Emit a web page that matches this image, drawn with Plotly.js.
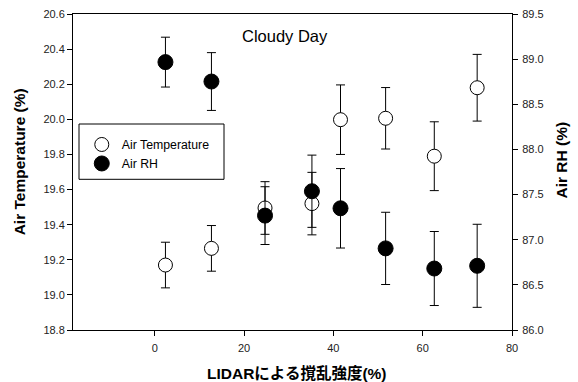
<!DOCTYPE html>
<html><head><meta charset="utf-8">
<script src="https://cdn.plot.ly/plotly-3.0.1.min.js"></script>
<style>html,body{margin:0;padding:0;background:#fff}</style>
</head><body>
<div id="chart" style="width:578px;height:382px"></div>
<script>
const xVals = [2.4, 12.7, 24.7, 35.2, 41.6, 51.7, 62.6, 72.2];
const tempVals = [19.17, 19.265, 19.495, 19.52, 19.998, 20.006, 19.79, 20.18];
const tempErr = [0.13, 0.13, 0.15, 0.178, 0.198, 0.175, 0.196, 0.19];
const rhVals = [88.967, 88.752, 87.267, 87.537, 87.348, 86.904, 86.681, 86.711];
const rhErr = [0.276, 0.32, 0.32, 0.4, 0.44, 0.4, 0.41, 0.46];
const xTicks = [0, 20, 40, 60, 80];
const tempTicks = [18.8, 19.0, 19.2, 19.4, 19.6, 19.8, 20.0, 20.2, 20.4, 20.6];
const rhTicks = [86.0, 86.5, 87.0, 87.5, 88.0, 88.5, 89.0, 89.5];

const F = 'Liberation Sans, Arial, Noto Sans CJK JP, sans-serif';
const TF = {family: F, size: 15.5, color: '#000', weight: 'bold'};
const traces = [
  {x: xVals, y: tempVals, type: 'scatter', mode: 'markers', name: 'Air Temperature',
   marker: {symbol: 'circle', size: 14, color: '#ffffff', line: {color: '#000', width: 1}},
   error_y: {type: 'data', array: tempErr, visible: true, color: '#000', thickness: 1, width: 4.5}},
  {x: xVals, y: rhVals, type: 'scatter', mode: 'markers', name: 'Air RH', yaxis: 'y2',
   marker: {symbol: 'circle', size: 15, color: '#000', line: {color: '#000', width: 1}},
   error_y: {type: 'data', array: rhErr, visible: true, color: '#000', thickness: 1, width: 4.5}}
];
const layout = {
  width: 578, height: 382,
  margin: {l: 73, r: 66, t: 14, b: 52, pad: 0},
  paper_bgcolor: '#fff', plot_bgcolor: '#fff',
  font: {family: F, size: 11, color: '#222'},
  showlegend: true,
  legend: {x: 0.02, y: 0.633, xanchor: 'left', yanchor: 'top', borderwidth: 0,
           bgcolor: 'rgba(0,0,0,0)', font: {family: F, size: 12.3, color: '#000'}, itemwidth: 30, tracegroupgap: 0},
  shapes: [{type: 'rect', xref: 'paper', yref: 'paper', x0: 6 / 439, x1: 151 / 439,
            y0: (330 - 179.3) / 316, y1: (330 - 124) / 316, line: {color: '#000', width: 1},
            fillcolor: '#fff', layer: 'above'}],
  xaxis: {range: [-18.3, 80], tickvals: xTicks, ticks: 'outside', ticklen: 5, tickcolor: '#000',
          showline: true, linecolor: '#000', linewidth: 1, mirror: true, showgrid: false, zeroline: false,
          ticklabelstandoff: 3, tickfont: {family: F, size: 11, color: '#222'}},
  yaxis: {range: [18.8, 20.6], tickvals: tempTicks, ticktext: tempTicks.map(v => v.toFixed(1)),
          ticks: 'outside', ticklen: 5, tickcolor: '#000', showline: true, linecolor: '#000', linewidth: 1,
          showgrid: false, zeroline: false, tickfont: {family: F, size: 11, color: '#222'}},
  yaxis2: {range: [86.0, 89.5], tickvals: rhTicks, ticktext: rhTicks.map(v => v.toFixed(1)),
           overlaying: 'y', side: 'right', ticks: 'outside', ticklen: 5, tickcolor: '#000', showline: true,
           linecolor: '#000', linewidth: 1, showgrid: false, zeroline: false,
           ticklabelstandoff: 2, tickfont: {family: F, size: 11, color: '#222'}},
  annotations: [
    {text: 'Cloudy Day', xref: 'paper', yref: 'paper', x: 0.4837, y: 0.93, xanchor: 'center', yanchor: 'middle',
     showarrow: false, font: {family: F, size: 16.5, color: '#000'}},
    {text: 'LIDARによる撹乱強度(%)', xref: 'paper', yref: 'paper', x: 0.51, y: -0.136, xanchor: 'center', yanchor: 'middle',
     showarrow: false, font: TF},
    {text: 'Air Temperature (%)', xref: 'paper', yref: 'paper', x: -0.122, y: 0.532, xanchor: 'center', yanchor: 'middle',
     textangle: -90, showarrow: false, font: TF},
    {text: 'Air RH (%)', xref: 'paper', yref: 'paper', x: 1.115, y: 0.538, xanchor: 'center', yanchor: 'middle',
     textangle: -90, showarrow: false, font: TF}
  ]
};
Plotly.newPlot('chart', traces, layout, {displayModeBar: false, staticPlot: true});
</script>
</body></html>
